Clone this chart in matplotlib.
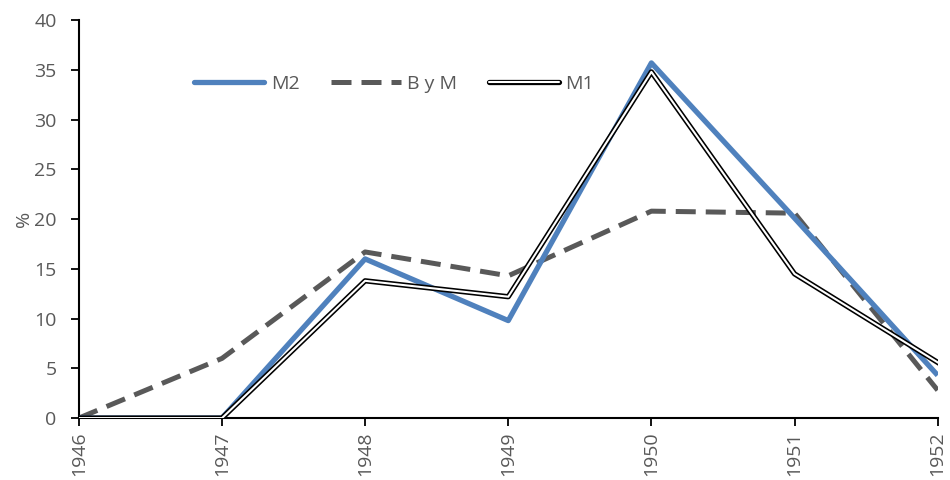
import matplotlib
matplotlib.use("Agg")
import matplotlib.pyplot as plt
from matplotlib.lines import Line2D
import matplotlib.patheffects as pe

years = [1946, 1947, 1948, 1949, 1950, 1951, 1952]
m2 = [0.0, 0.0, 16.0, 9.8, 35.7, 20.1, 4.3]
bym = [0.0, 6.0, 16.7, 14.3, 20.8, 20.6, 2.8]
m1 = [0.0, 0.0, 13.8, 12.2, 34.8, 14.5, 5.6]
yticks = [0, 5, 10, 15, 20, 25, 30, 35, 40]

plt.rcParams['font.family'] = ['Open Sans', 'DejaVu Sans']
grey = '#595959'
fs = 14

fig = plt.figure(figsize=(9.5, 4.8), dpi=100)
ax = fig.add_axes([0.083, 0.129, 0.904, 0.829])

double = [pe.Stroke(linewidth=3.8, foreground='black'),
          pe.Stroke(linewidth=1.5, foreground='white')]

ax.plot(years, m2, color='#4f81bd', lw=3.8, solid_capstyle='butt', zorder=3)
ax.plot(years, bym, color='#595959', lw=3.6, dashes=(4, 2), zorder=2)
ax.plot(years, m1, color='black', lw=3.8, zorder=4, path_effects=double)

ax.set_xlim(1946, 1952)
ax.set_ylim(0, 40)
ax.set_xticks(years)
ax.set_xticklabels([str(y) for y in years], rotation=90)
ax.set_yticks(yticks)
ax.set_ylabel('%', color=grey, fontsize=fs, labelpad=1)

for s in ['top', 'right']:
    ax.spines[s].set_visible(False)
for s in ['left', 'bottom']:
    ax.spines[s].set_color('black')
    ax.spines[s].set_linewidth(1.5)
ax.tick_params(axis='both', colors='black', labelcolor=grey, labelsize=fs,
               length=6, width=1.3, direction='out')
ax.tick_params(axis='y', pad=10)

handles = [
    Line2D([], [], color='#4f81bd', lw=3.8, solid_capstyle='round'),
    Line2D([], [], color='#595959', lw=3.6, dashes=(4, 2)),
    Line2D([], [], color='black', lw=3.8, solid_capstyle='round',
           path_effects=double),
]
leg = ax.legend(handles, ['M2', 'B y M', 'M1'], loc='center',
                bbox_to_anchor=(0.367, 0.84), ncol=3, frameon=False,
                fontsize=fs, handlelength=3.6, columnspacing=1.6,
                handletextpad=0.35)
for t in leg.get_texts():
    t.set_color(grey)

fig.savefig('out.png', dpi=100)
